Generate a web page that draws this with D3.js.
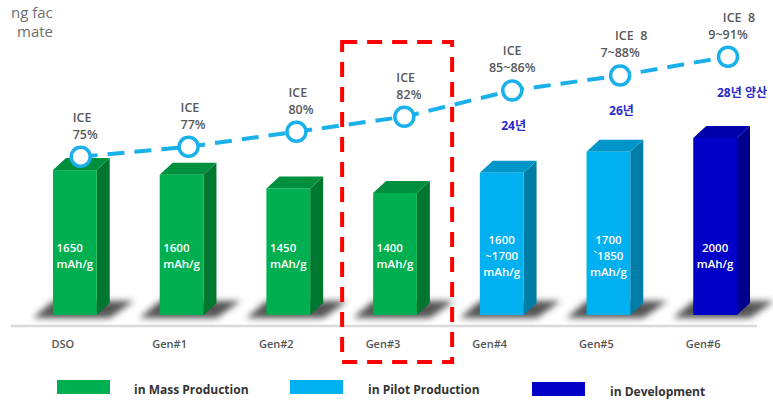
<!DOCTYPE html>
<html>
<head>
<meta charset="utf-8">
<script src="https://cdn.jsdelivr.net/npm/d3@7"></script>
<style>
  body { margin: 0; background: #fff; }
  svg { display: block; }
  text { font-family: 'Open Sans', 'Noto Sans CJK KR', sans-serif; }
</style>
</head>
<body>
<svg id="chart" width="773" height="404"></svg>
<script>
// ---- data ----
var categories = ["DSO", "Gen#1", "Gen#2", "Gen#3", "Gen#4", "Gen#5", "Gen#6"];
var barValues = [1650, 1600, 1450, 1400, 1620, 1850, 2000];   // drawn bar height, mAh/g
var barLabels = [
    ["1650", "mAh/g"], ["1600", "mAh/g"], ["1450", "mAh/g"], ["1400", "mAh/g"],
    ["1600", "~1700", "mAh/g"], ["1700", "`1850", "mAh/g"], ["2000", "mAh/g"]
];
var stages = ["mass", "mass", "mass", "mass", "pilot", "pilot", "dev"];
var iceValues = [75, 77, 80, 82, 85.5, 87.5, 90];
var iceLabels = [
    ["ICE", "75%"], ["ICE", "77%"], ["ICE", "80%"], ["ICE", "82%"],
    ["ICE", "85~86%"], ["ICE  8", "7~88%"], ["ICE  8", "9~91%"]
];
var yearLabels = ["", "", "", "", "24년", "26년", "28년 양산"];
var legendKeys = ["mass", "pilot", "dev"];
var legendNames = ["in Mass Production", "in Pilot Production", "in Development"];

var colors = {
    mass:  { front: "#00b050", side: "#00772f", top: "#008f3c" },
    pilot: { front: "#00b0f0", side: "#007ea8", top: "#0096c9" },
    dev:   { front: "#0000c8", side: "#000090", top: "#0000aa" }
};

var floorY = 315;
var dx = 13, dy = 12;

var svg = d3.select("#chart");

var defs = svg.append("defs");
defs.append("filter").attr("id", "blur")
    .attr("x", "-50%").attr("y", "-50%").attr("width", "200%").attr("height", "200%")
    .append("feGaussianBlur").attr("stdDeviation", 3);
defs.append("clipPath").attr("id", "cut")
    .append("rect").attr("x", 0).attr("y", 0).attr("width", 53).attr("height", 50);

// cut-off title fragments at top left
var frag = svg.append("g").attr("clip-path", "url(#cut)")
    .attr("font-size", 15).attr("fill", "#6e6e6e");
frag.append("text").attr("x", 11).attr("y", 18).text("ng factory");
frag.append("text").attr("x", 17).attr("y", 37).text("materials");

var x = d3.scaleBand()
    .domain(categories)
    .range([53, 737])
    .paddingInner(0.59)
    .paddingOuter(0);

var y = d3.scaleLinear()
    .domain([1400, 2000])
    .range([193, 138]);

var xm = d3.scalePoint()
    .domain(categories)
    .range([80.7, 728]);

var yIce = d3.scaleLinear()
    .domain([75, 80, 90])
    .range([156.7, 131.7, 56.7]);

var bw = x.bandwidth();

var bars = categories.map(function (c, i) {
    return { cat: c, value: barValues[i], label: barLabels[i], stage: stages[i] };
});

// floor line
svg.append("line")
    .attr("x1", 11).attr("x2", 757)
    .attr("y1", 326).attr("y2", 326)
    .attr("stroke", "#dadada").attr("stroke-width", 2.5);

// shadows
svg.append("g").selectAll("polygon")
    .data(bars)
    .join("polygon")
    .attr("points", function (d) {
        var x0 = x(d.cat), x1 = x0 + bw;
        return [[x0 - 20, floorY + 3], [x1 + dx, floorY + 3], [x1 + dx + 24, floorY - 14], [x0, floorY - 14]].join(" ");
    })
    .attr("fill", "#2a2a2a")
    .attr("opacity", 0.8)
    .attr("filter", "url(#blur)");

var bar = svg.append("g").selectAll("g")
    .data(bars)
    .join("g");

bar.append("polygon")
    .attr("points", function (d) {
        var x1 = x(d.cat) + bw, t = y(d.value);
        return [[x1, t], [x1 + dx, t - dy], [x1 + dx, floorY - dy], [x1, floorY]].join(" ");
    })
    .attr("fill", function (d) { return colors[d.stage].side; });

bar.append("polygon")
    .attr("points", function (d) {
        var x0 = x(d.cat), x1 = x0 + bw, t = y(d.value);
        return [[x0, t], [x0 + dx, t - dy], [x1 + dx, t - dy], [x1, t]].join(" ");
    })
    .attr("fill", function (d) { return colors[d.stage].top; });

bar.append("rect")
    .attr("x", function (d) { return x(d.cat); })
    .attr("y", function (d) { return y(d.value); })
    .attr("width", bw)
    .attr("height", function (d) { return floorY - y(d.value); })
    .attr("fill", function (d) { return colors[d.stage].front; });

// capacity text inside bars, one text per line
bar.each(function (d) {
    var tx = d.stage == "mass" ? x(d.cat) + 3.5 : x(d.cat) + bw / 2;
    var start = d.label.length == 3 ? 244 : 252;
    d3.select(this).selectAll("text")
        .data(d.label)
        .join("text")
        .attr("fill", "#fff")
        .attr("font-size", 11.5)
        .attr("font-weight", 600)
        .attr("text-anchor", d.stage == "mass" ? "start" : "middle")
        .attr("x", tx)
        .attr("y", function (s, j) { return start + j * 16; })
        .text(function (s) { return s; });
});

// category labels
svg.append("g")
    .attr("font-size", 11)
    .attr("font-weight", 600)
    .attr("fill", "#555")
    .attr("text-anchor", "middle")
    .selectAll("text")
    .data(categories)
    .join("text")
    .attr("x", function (c) { return x(c) + bw / 2 - 12; })
    .attr("y", 348)
    .text(function (c) { return c; });

// ICE line
var pts = categories.map(function (c, i) { return [xm(c), yIce(iceValues[i])]; });

svg.append("path")
    .attr("d", d3.line()(pts))
    .attr("fill", "none")
    .attr("stroke", "#1ab0ea")
    .attr("stroke-width", 4)
    .attr("stroke-dasharray", "17,10");

svg.append("g").selectAll("circle")
    .data(pts)
    .join("circle")
    .attr("cx", function (p) { return p[0]; })
    .attr("cy", function (p) { return p[1]; })
    .attr("r", 9.5)
    .attr("fill", "#fff")
    .attr("stroke", "#1ab0ea")
    .attr("stroke-width", 3.5);

// ICE labels, one text per line
var iceG = svg.append("g")
    .attr("font-size", 12.5)
    .attr("font-weight", 600)
    .attr("fill", "#595959");

iceLabels.forEach(function (lab, i) {
    var p = pts[i];
    var short = lab[1].length <= 4;
    lab.forEach(function (s, j) {
        var tx = short ? p[0] - 8 : p[0] + (j == 0 && s.indexOf("  ") > 0 ? 11 : 0);
        iceG.append("text")
            .attr("xml:space", "preserve")
            .attr("text-anchor", short ? "start" : "middle")
            .attr("x", tx)
            .attr("y", p[1] - 35 + j * 17)
            .text(s);
    });
});

// year labels
svg.append("g")
    .attr("font-size", 12)
    .attr("font-weight", 700)
    .attr("fill", "#2a2ac8")
    .style("font-family", "'Noto Sans CJK KR', sans-serif")
    .selectAll("text")
    .data(yearLabels)
    .join("text")
    .attr("x", function (s, i) { return pts[i][0] - 11; })
    .attr("y", function (s, i) { return pts[i][1] + 40; })
    .text(function (s) { return s; });

// red dashed highlight box around Gen#3
var gx = x("Gen#3");
svg.append("rect")
    .attr("x", gx - 31)
    .attr("y", 42)
    .attr("width", 110)
    .attr("height", 320)
    .attr("fill", "none")
    .attr("stroke", "#ff0000")
    .attr("stroke-width", 4)
    .attr("stroke-dasharray", "15,10");

// legend
var legendX = [57, 290, 532];
var lg = svg.append("g").selectAll("g")
    .data(legendKeys)
    .join("g")
    .attr("transform", function (k, i) { return "translate(" + legendX[i] + "," + (i == 2 ? 382 : 380) + ")"; });

lg.append("rect")
    .attr("width", 53)
    .attr("height", 14)
    .attr("fill", function (k) { return colors[k].front; });

lg.append("text")
    .attr("x", function (k, i) { return i == 0 ? 77 : 78; })
    .attr("y", 14)
    .attr("font-size", 12)
    .attr("font-weight", 700)
    .attr("fill", "#333")
    .text(function (k, i) { return legendNames[i]; });
</script>
</body>
</html>
